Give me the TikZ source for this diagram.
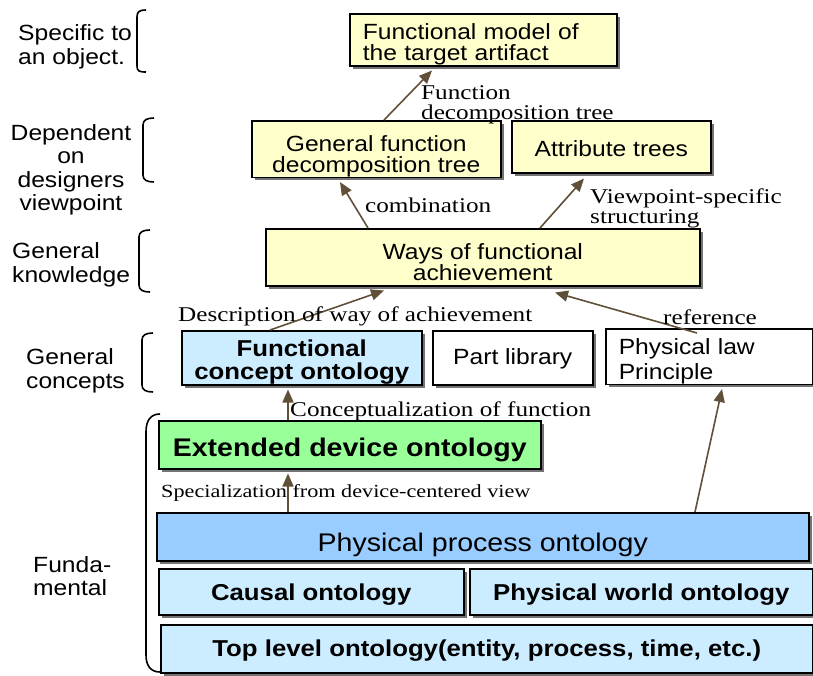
\documentclass[tikz,border=0pt]{standalone}
\usepackage{fontspec}
\setmainfont{Liberation Sans}[FakeStretch=1.12]
\newfontfamily\serifF{Liberation Serif}[FakeStretch=1.2]
\usetikzlibrary{shadows,arrows.meta}
\definecolor{yel}{RGB}{255,255,204}
\definecolor{lblue}{RGB}{204,236,255}
\definecolor{mblue}{RGB}{153,204,255}
\definecolor{lgreen}{RGB}{153,255,153}
\definecolor{arrowc}{RGB}{96,80,56}
\newcommand\tpstrut[1]{\rule{0pt}{#1pt}}
\tikzset{
 box/.style={draw=black, line width=1.5pt, inner sep=0pt, anchor=north west, align=center,
   font=\fontsize{22}{21}\selectfont,
   drop shadow={shadow xshift=3pt, shadow yshift=-3pt, fill=black!55, opacity=1}},
 arr/.style={draw=arrowc, line width=1.6pt, -{Triangle[length=13pt,width=11pt]}},
 lab/.style={font=\serifF\fontsize{21}{20}\selectfont, inner sep=0pt, align=left},
 side/.style={font=\fontsize{22}{23.5}\selectfont, inner sep=0pt},
 brace/.style={draw=black, line width=1.6pt},
}
\begin{document}
\begin{tikzpicture}[x=1pt,y=-1pt]
\useasboundingbox (0,0) rectangle (813,675);

% boxes
\node[box, fill=yel, minimum width=267pt, minimum height=52pt, align=left, inner xsep=13pt, text width=241pt] (fm) at (349,13) {\tpstrut{26}Functional model of\\the target artifact};
\node[box, fill=yel, minimum width=249pt, minimum height=55pt] (gfd) at (251,120) {\tpstrut{31}General function\\decomposition tree};
\node[box, fill=yel, minimum width=199pt, minimum height=52pt] (attr) at (511,120) {\tpstrut{20}Attribute trees};
\node[box, fill=yel, minimum width=434pt, minimum height=57pt] (ways) at (265,228) {\tpstrut{26}Ways of functional\\achievement};
\node[box, fill=lblue, minimum width=240pt, minimum height=54pt, font=\bfseries\fontsize{23}{23}\selectfont] (fco) at (181,330) {\tpstrut{25}Functional\\concept ontology};
\node[box, fill=white, minimum width=160pt, minimum height=54pt] (part) at (432,330) {\tpstrut{18}Part library};
\node[box, fill=white, minimum width=207pt, minimum height=55pt, align=left, inner xsep=13pt, text width=181pt, font=\fontsize{22}{25}\selectfont] (phys) at (605,328) {\tpstrut{26}Physical law\\Principle};
\node[box, fill=lgreen, minimum width=382pt, minimum height=48pt, font=\bfseries\fontsize{25.5}{25}\selectfont] (ext) at (158,420) {\tpstrut{28}Extended device ontology};
\node[box, fill=mblue, minimum width=652pt, minimum height=48pt, font=\fontsize{25.5}{25}\selectfont] (proc) at (156,512) {\tpstrut{34}Physical process ontology};
\node[box, fill=lblue, minimum width=305pt, minimum height=46pt, font=\bfseries\fontsize{23}{22}\selectfont] (causal) at (158,568) {\tpstrut{23}Causal ontology};
\node[box, fill=lblue, minimum width=343pt, minimum height=46pt, font=\bfseries\fontsize{23}{22}\selectfont] (world) at (469,568) {\tpstrut{23}Physical world ontology};
\node[box, fill=lblue, minimum width=652pt, minimum height=48pt, font=\bfseries\fontsize{23}{22}\selectfont] (top) at (160,624) {\tpstrut{21}Top level ontology(entity, process, time, etc.)};

% arrows
\draw[arr] ([xshift=133pt]gfd.north west) -- ([xshift=83pt,yshift=-4pt]fm.south west);
\draw[arr] ([xshift=103pt]ways.north west) -- ([xshift=89pt,yshift=-4pt]gfd.south west);
\draw[arr] ([xshift=275pt]ways.north west) -- ([xshift=73pt,yshift=-5pt]attr.south west);
\draw[arr] ([xshift=89pt]fco.north west) -- ([xshift=119pt,yshift=-4pt]ways.south west);
\draw[arr] ([xshift=92pt,yshift=-5pt]phys.north west) -- ([xshift=290pt,yshift=-6pt]ways.south west);
\draw[arr] ([xshift=130pt]ext.north west) -- ([xshift=107pt,yshift=-4pt]fco.south west);
\draw[arr] ([xshift=132pt]proc.north west) -- ([xshift=130pt,yshift=-4pt]ext.south west);
\draw[arr] ([xshift=539pt]proc.north west) -- ([xshift=117pt,yshift=-4pt]phys.south west);

% connector labels
\node[lab, anchor=north west] (l1) at (421,85) {Function\\decomposition tree};
\node[lab, anchor=west] (l2) at (365,205) {combination};
\node[lab, anchor=north west] (l3) at (590,189) {Viewpoint-specific\\structuring};
\node[lab, anchor=west] (l4) at (178,316) {Description of way of achievement};
\node[lab, anchor=west] (l5) at (663,317) {reference};
\node[lab, anchor=west] (l6) at (290,411) {Conceptualization of function};
\node[lab, anchor=west, font=\serifF\fontsize{18.5}{18}\selectfont] (l7) at (161,493) {Specialization from device-centered view};

% side labels
\node[side, align=left, anchor=west] (s1) at (18,47) {Specific to\\an object.};
\node[side, align=center] (s2) at (71,170) {Dependent\\on\\designers\\viewpoint};
\node[side, align=left, anchor=west] (s3) at (12,265) {General\\knowledge};
\node[side, align=left, anchor=west] (s4) at (26,371) {General\\concepts};
\node[side, align=left, anchor=west] (s5) at (33,576) {Funda-\\mental};

% braces
\draw[brace] (146,10) .. controls (139,10) and (137,12) .. (137,17) -- (137,66) .. controls (137,71) and (139,72) .. (146,72);
\draw[brace] (154,118) .. controls (147,118) and (143,120) .. (143,125) -- (143,175) .. controls (143,180) and (147,182) .. (154,182);
\draw[brace] (150,230) .. controls (143,230) and (139,232) .. (139,237) -- (139,285) .. controls (139,290) and (143,292) .. (150,292);
\draw[brace] (153,333) .. controls (146,333) and (142,335) .. (142,340) -- (142,385) .. controls (142,390) and (146,392) .. (153,392);
\draw[brace] (160,414) .. controls (151,414) and (146,420) .. (146,432) -- (146,655) .. controls (146,666) and (151,672) .. (160,672);
\end{tikzpicture}
\end{document}
